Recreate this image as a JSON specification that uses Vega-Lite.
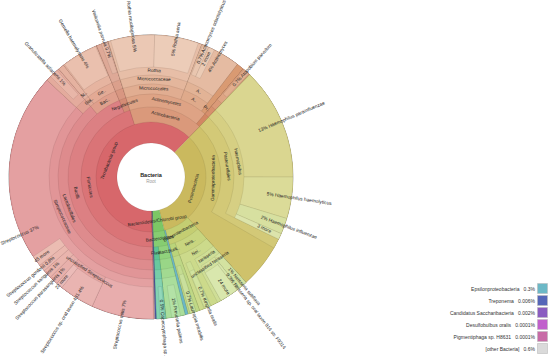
{
  "$schema": "https://vega.github.io/schema/vega-lite/v6.json",
  "width": 302,
  "height": 354,
  "autosize": {"type": "none"},
  "padding": {"left": 0, "top": 0, "right": 248, "bottom": 5},
  "background": "#ffffff",
  "config": {"view": {"stroke": null}, "text": {"font": "Liberation Sans"}},
  "datasets": {
    "nodes": [
      {"name": "Terrabacteria group", "label": "Terrabacteria group", "d": 1, "p0": 37.42, "p1": 100},
      {"name": "Firmicutes", "label": "Firmicutes", "d": 2, "p0": 37.42, "p1": 82.92},
      {"name": "Bacilli", "label": "Bacilli", "d": 3, "p0": 37.42, "p1": 81.53},
      {"name": "Lactobacillales", "label": "Lactobacillales", "d": 4, "p0": 37.42, "p1": 76.53},
      {"name": "Streptococcaceae", "label": "Streptococcaceae", "d": 5, "p0": 37.42, "p1": 74.72},
      {"name": "Streptococcus", "pct": "37%", "d": 6, "p0": 37.42, "p1": 74.72},
      {"name": "Streptococcus mitis", "pct": "7%", "d": 7, "p0": 37.5, "p1": 44.58},
      {"name": "unclassified Streptococcus", "label": "unclassified Streptococcus", "d": 7, "p0": 44.58, "p1": 49.31},
      {"name": "Streptococcus sp. oral taxon 431", "pct": "4%", "d": 8, "p0": 44.58, "p1": 48.58},
      {"name": "22 more", "pct": "", "d": 8, "p0": 48.58, "p1": 49.31},
      {"name": "Streptococcus parasanguinis", "pct": "1%", "d": 7, "p0": 49.31, "p1": 50.31},
      {"name": "Streptococcus sanguinis", "pct": "1%", "d": 7, "p0": 50.31, "p1": 51.31},
      {"name": "Streptococcus gordonii", "pct": "0.8%", "d": 7, "p0": 51.31, "p1": 52.11},
      {"name": "45 more", "pct": "", "d": 7, "p0": 52.11, "p1": 53.33},
      {"name": "Carnobacteriaceae", "d": 5, "p0": 74.72, "p1": 76.53},
      {"name": "Granulicatella", "d": 6, "p0": 74.72, "p1": 76.53},
      {"name": "Granulicatella adiacens", "pct": "1%", "d": 7, "p0": 75.28, "p1": 76.28},
      {"name": "Bacillales", "label": "Bac..", "d": 4, "p0": 76.53, "p1": 81.53},
      {"name": "Staphylococcaceae", "label": "Sta..", "d": 5, "p0": 76.53, "p1": 77.22},
      {"name": "Staphylococcus", "label": "St..", "d": 6, "p0": 76.53, "p1": 77.22},
      {"name": "Gemellaceae", "label": "Ge..", "d": 5, "p0": 77.22, "p1": 81.53},
      {"name": "Gemella", "d": 6, "p0": 77.22, "p1": 81.53},
      {"name": "Gemella haemolysans", "pct": "4%", "d": 7, "p0": 77.36, "p1": 81.39},
      {"name": "Negativicutes", "label": "Negativicutes", "d": 3, "p0": 81.53, "p1": 82.92},
      {"name": "Veillonellales", "d": 4, "p0": 81.53, "p1": 82.92},
      {"name": "Veillonellaceae", "d": 5, "p0": 81.53, "p1": 82.92},
      {"name": "Veillonella", "d": 6, "p0": 81.53, "p1": 82.92},
      {"name": "Veillonella parvula", "pct": "0.7%", "d": 7, "p0": 82.08, "p1": 82.78},
      {"name": "Actinobacteria", "label": "Actinobacteria", "d": 2, "p0": 82.92, "p1": 100},
      {"name": "Actinomycetes", "label": "Actinomycetes", "d": 3, "p0": 82.92, "p1": 99.03},
      {"name": "Micrococcales", "label": "Micrococcales", "d": 4, "p0": 82.92, "p1": 93.61},
      {"name": "Micrococcaceae", "label": "Micrococcaceae", "d": 5, "p0": 82.92, "p1": 93.61},
      {"name": "Rothia", "label": "Rothia", "d": 6, "p0": 82.92, "p1": 93.61},
      {"name": "Rothia mucilaginosa", "pct": "5%", "d": 7, "p0": 83.19, "p1": 88.19},
      {"name": "Rothia aeria", "pct": "5%", "d": 7, "p0": 88.19, "p1": 93.19},
      {"name": "Actinomycetales", "label": "A..", "d": 4, "p0": 93.61, "p1": 98.19},
      {"name": "Actinomycetaceae", "label": "A..", "d": 5, "p0": 93.61, "p1": 98.19},
      {"name": "Actinomyces", "pct": "4%", "d": 6, "p0": 93.61, "p1": 98.19},
      {"name": "Actinomyces odontolyticus", "pct": "0.7%", "d": 7, "p0": 93.75, "p1": 94.44},
      {"name": "2 more", "pct": "", "d": 7, "p0": 94.44, "p1": 95.14},
      {"name": "Propionibacteriales", "label": "Pr..", "d": 4, "p0": 98.19, "p1": 99.03},
      {"name": "Coriobacteriia", "d": 3, "p0": 99.03, "p1": 100},
      {"name": "Coriobacteriales", "d": 4, "p0": 99.03, "p1": 100},
      {"name": "Atopobiaceae", "d": 5, "p0": 99.03, "p1": 100},
      {"name": "Atopobium", "d": 6, "p0": 99.03, "p1": 100},
      {"name": "Atopobium parvulum", "pct": "0.7%", "d": 7, "p0": 99.17, "p1": 99.86},
      {"name": "Proteobacteria", "label": "Proteobacteria", "d": 1, "p0": 0, "p1": 33.89},
      {"name": "Gammaproteobacteria", "label": "Gammaproteobacteria", "d": 2, "p0": 0, "p1": 26.11},
      {"name": "Pasteurellales", "label": "Pasteurellales", "d": 3, "p0": 0, "p1": 21.11},
      {"name": "Haemophilus", "label": "Haemophilus", "d": 4, "p0": 0, "p1": 20},
      {"name": "Haemophilus parainfluenzae", "pct": "13%", "d": 5, "p0": 0, "p1": 12.78},
      {"name": "Haemophilus haemolyticus", "pct": "5%", "d": 5, "p0": 12.78, "p1": 17.5},
      {"name": "Haemophilus influenzae", "pct": "2%", "d": 5, "p0": 17.5, "p1": 19.31},
      {"name": "3 more", "pct": "", "d": 5, "p0": 19.31, "p1": 20},
      {"name": "Betaproteobacteria", "label": "Betaproteobacteria", "d": 2, "p0": 26.11, "p1": 33.56},
      {"name": "Neisseriales", "label": "Neis..", "d": 3, "p0": 26.11, "p1": 32.22},
      {"name": "Neisseriaceae", "label": "Nei..", "d": 4, "p0": 26.11, "p1": 32.22},
      {"name": "Neisseria", "label": "Neisseria", "d": 5, "p0": 26.11, "p1": 30},
      {"name": "Neisseria subflava", "pct": "1%", "d": 6, "p0": 26.11, "p1": 27.11},
      {"name": "unclassified Neisseria", "label": "unclassified Neisseria", "d": 6, "p0": 27.11, "p1": 29.58},
      {"name": "Neisseria sp. oral taxon 014 str. F0314", "pct": "0.3%", "d": 7, "p0": 27.11, "p1": 27.42},
      {"name": "24 more", "pct": "", "d": 7, "p0": 27.42, "p1": 29.58},
      {"name": "Kingella", "d": 5, "p0": 30.83, "p1": 31.67},
      {"name": "Kingella oralis", "pct": "0.7%", "d": 6, "p0": 30.9, "p1": 31.6},
      {"name": "Burkholderiales", "label": "Burk..", "d": 3, "p0": 32.22, "p1": 33.56},
      {"name": "Burkholderiaceae", "d": 4, "p0": 32.22, "p1": 33.56},
      {"name": "Lautropia", "d": 5, "p0": 32.64, "p1": 33.33},
      {"name": "Lautropia mirabilis", "pct": "0.7%", "d": 6, "p0": 32.64, "p1": 33.33},
      {"name": "Bacteroidetes/Chlorobi group", "label": "Bacteroidetes/Chlorobi group", "d": 1, "p0": 33.89, "p1": 37.17},
      {"name": "Bacteroidetes", "label": "Bacteroidetes", "d": 2, "p0": 33.89, "p1": 37.17},
      {"name": "Bacteroidia", "label": "Bact..", "d": 3, "p0": 33.89, "p1": 36.11},
      {"name": "Bacteroidales", "d": 4, "p0": 33.89, "p1": 36.11},
      {"name": "Prevotellaceae", "d": 5, "p0": 33.89, "p1": 36.11},
      {"name": "Prevotella", "d": 6, "p0": 33.89, "p1": 36.11},
      {"name": "Prevotella pallens", "pct": "1%", "d": 7, "p0": 34.44, "p1": 35.44},
      {"name": "Flavobacteriia", "label": "Flav..", "d": 3, "p0": 36.11, "p1": 37.17},
      {"name": "Flavobacteriales", "d": 4, "p0": 36.11, "p1": 37.17},
      {"name": "Flavobacteriaceae", "d": 5, "p0": 36.11, "p1": 37.17},
      {"name": "Capnocytophaga", "d": 6, "p0": 36.11, "p1": 37.17},
      {"name": "Capnocytophaga sp.", "pct": "0.5%", "d": 7, "p0": 36.25, "p1": 36.75}
    ],
    "key": [
      {"name": "Epsilonproteobacteria", "pct": "0.3%", "d": 2, "p0": 33.56, "p1": 33.89},
      {"name": "Treponema", "pct": "0.006%", "d": 1, "p0": 37.17, "p1": 37.31},
      {"name": "Candidatus Saccharibacteria", "pct": "0.002%", "d": 1, "p0": 37.31, "p1": 37.33},
      {"name": "Desulfobulbus oralis", "pct": "0.0001%", "d": 1, "p0": 37.33, "p1": 37.35},
      {"name": "Pigmentiphaga sp. H8631", "pct": "0.0001%", "d": 1, "p0": 37.35, "p1": 37.36},
      {"name": "[other Bacteria]", "pct": "0.6%", "d": 1, "p0": 37.36, "p1": 37.42}
    ],
    "center": [{"name": "Bacteria", "rank": "Root"}]
  },
  "layer": [
    {
      "data": {"name": "nodes"},
      "mark": {"type": "arc", "stroke": "#000000", "strokeOpacity": 0.14, "strokeWidth": 0.5},
      "encoding": {
        "theta": {"field": "p0", "type": "quantitative", "stack": null, "scale": {"domain": [0, 100], "range": [0.76794, 7.05113]}},
        "theta2": {"field": "p1"},
        "radius": {"field": "d", "type": "quantitative", "scale": {"type": "linear", "zero": false, "domain": [1, 2, 3, 4, 5, 6, 7, 8, 9, 10, 11], "range": [34, 55, 70, 83, 93, 102, 110, 117, 123, 129, 142]}},
        "radius2": {"value": 142},
        "color": {
          "field": "name", "type": "nominal", "legend": null,
          "scale": {
            "domain": ["Terrabacteria group", "Firmicutes", "Bacilli", "Lactobacillales", "Streptococcaceae", "Streptococcus", "Streptococcus mitis", "unclassified Streptococcus", "Streptococcus sp. oral taxon 431", "22 more", "Streptococcus parasanguinis", "Streptococcus sanguinis", "Streptococcus gordonii", "45 more", "Carnobacteriaceae", "Granulicatella", "Granulicatella adiacens", "Bacillales", "Staphylococcaceae", "Staphylococcus", "Gemellaceae", "Gemella", "Gemella haemolysans", "Negativicutes", "Veillonellales", "Veillonellaceae", "Veillonella", "Veillonella parvula", "Actinobacteria", "Actinomycetes", "Micrococcales", "Micrococcaceae", "Rothia", "Rothia mucilaginosa", "Rothia aeria", "Actinomycetales", "Actinomycetaceae", "Actinomyces", "Actinomyces odontolyticus", "2 more", "Propionibacteriales", "Coriobacteriia", "Coriobacteriales", "Atopobiaceae", "Atopobium", "Atopobium parvulum", "Proteobacteria", "Gammaproteobacteria", "Pasteurellales", "Haemophilus", "Haemophilus parainfluenzae", "Haemophilus haemolyticus", "Haemophilus influenzae", "3 more", "Betaproteobacteria", "Neisseriales", "Neisseriaceae", "Neisseria", "Neisseria subflava", "unclassified Neisseria", "Neisseria sp. oral taxon 014 str. F0314", "24 more", "Kingella", "Kingella oralis", "Burkholderiales", "Burkholderiaceae", "Lautropia", "Lautropia mirabilis", "Bacteroidetes/Chlorobi group", "Bacteroidetes", "Bacteroidia", "Bacteroidales", "Prevotellaceae", "Prevotella", "Prevotella pallens", "Flavobacteriia", "Flavobacteriales", "Flavobacteriaceae", "Capnocytophaga", "Capnocytophaga sp."],
            "range": ["#d7676b", "#da7477", "#dc8083", "#de8b8d", "#e19597", "#e4a0a1", "#e8adad", "#e5a6a4", "#e9b4b1", "#ebbbb8", "#e8b0ab", "#e9b4ad", "#eab7ae", "#ebbcb2", "#e1a193", "#e4ab9d", "#e8b6a8", "#df9f8c", "#e2a996", "#e5b2a0", "#e3aa95", "#e6b4a0", "#eac0ae", "#d48c75", "#d89681", "#dba08c", "#dea997", "#e2b4a2", "#da997b", "#dea385", "#e1ad91", "#e4b69c", "#e7bea7", "#ebc8b4", "#ecccb8", "#dfaa8b", "#e2b396", "#e5bba2", "#e9c6af", "#ebcbb5", "#d99a72", "#d28663", "#d6906d", "#da9a78", "#dea483", "#e2ae8e", "#cab95e", "#cfc26b", "#d3c977", "#d6cf83", "#dad690", "#dbdb98", "#d7e0a0", "#dce4ab", "#c4ce72", "#c8d57f", "#ccda8b", "#cfde96", "#d3e2a0", "#d3e19e", "#d7e5a8", "#d9e7ad", "#cddf93", "#d1e39e", "#bad47a", "#bfd886", "#c4dc91", "#c9e09c", "#7cc765", "#86cd71", "#90d27c", "#99d687", "#a2da91", "#aade9b", "#b3e2a6", "#5cc394", "#69c99e", "#76cea8", "#83d3b1", "#91d8ba"]
          }
        }
      }
    },
    {
      "data": {"name": "key"},
      "transform": [{"calculate": "datum.name + '\u00a0\u00a0\u00a0' + datum.pct", "as": "entry"}],
      "mark": {"type": "arc", "stroke": "#000000", "strokeOpacity": 0.14, "strokeWidth": 0.5},
      "encoding": {
        "theta": {"field": "p0", "type": "quantitative", "stack": null, "scale": {"domain": [0, 100], "range": [0.76794, 7.05113]}},
        "theta2": {"field": "p1"},
        "radius": {"field": "d", "type": "quantitative", "scale": {"type": "linear", "zero": false, "domain": [1, 2, 3, 4, 5, 6, 7, 8, 9, 10, 11], "range": [34, 55, 70, 83, 93, 102, 110, 117, 123, 129, 142]}},
        "radius2": {"value": 142},
        "color": {
          "field": "entry", "type": "nominal",
          "scale": {
            "domain": ["Epsilonproteobacteria\u00a0\u00a0\u00a00.3%", "Treponema\u00a0\u00a0\u00a00.006%", "Candidatus Saccharibacteria\u00a0\u00a0\u00a00.002%", "Desulfobulbus oralis\u00a0\u00a0\u00a00.0001%", "Pigmentiphaga sp. H8631\u00a0\u00a0\u00a00.0001%", "[other Bacteria]\u00a0\u00a0\u00a00.6%"],
            "range": ["#6cb8c6", "#5566b8", "#8a5cc0", "#c160cc", "#c86ba6", "#dadada"]
          },
          "legend": {
            "orient": "none", "legendX": 384, "legendY": 283, "title": null, "padding": 0,
            "symbolType": "square", "symbolSize": 100, "symbolOffset": 153, "symbolOpacity": 1,
            "symbolStrokeColor": "#bbbbbb", "symbolStrokeWidth": 0.6,
            "labelAlign": "right", "labelOffset": -13, "labelFontSize": 5, "labelColor": "#333333",
            "labelFont": "Liberation Sans", "labelLimit": 300, "rowPadding": -2.9
          }
        }
      }
    },
    {
      "data": {"name": "nodes"},
      "transform": [
        {"filter": "isValid(datum.label) && !isValid(datum.pct)"},
        {"calculate": "(datum.p0 + datum.p1) / 2", "as": "mid"},
        {"calculate": "(44 + datum.mid * 3.6) % 360", "as": "th"},
        {"calculate": "datum.th > 90 && datum.th < 270 ? datum.th - 180 : datum.th", "as": "ang"},
        {"calculate": "datum.d + 0.5", "as": "rr"}
      ],
      "mark": {"type": "text", "fontSize": 4.6, "fill": "#222222", "align": "center", "baseline": "middle", "font": "Liberation Sans"},
      "encoding": {
        "theta": {"field": "mid", "type": "quantitative", "stack": null, "scale": {"domain": [0, 100], "range": [0.76794, 7.05113]}},
        "radius": {"field": "rr", "type": "quantitative", "scale": {"type": "linear", "zero": false, "domain": [1, 2, 3, 4, 5, 6, 7, 8, 9, 10, 11], "range": [34, 55, 70, 83, 93, 102, 110, 117, 123, 129, 142]}},
        "angle": {"field": "ang", "type": "quantitative", "scale": null},
        "text": {"field": "label"}
      }
    },
    {
      "data": {"name": "nodes"},
      "transform": [
        {"filter": "isValid(datum.pct)"},
        {"calculate": "(datum.p0 + datum.p1) / 2", "as": "mid"},
        {"calculate": "(44 + datum.mid * 3.6) % 360", "as": "th"},
        {"filter": "datum.th < 180"},
        {"calculate": "datum.th - 90", "as": "ang"},
        {"calculate": "(datum.d + 11) / 2", "as": "rr"},
        {"calculate": "(datum.pct != '' ? datum.pct + ' ' : '') + datum.name", "as": "txt"}
      ],
      "mark": {"type": "text", "fontSize": 4.8, "fill": "#222222", "align": "left", "baseline": "middle", "font": "Liberation Sans"},
      "encoding": {
        "theta": {"field": "mid", "type": "quantitative", "stack": null, "scale": {"domain": [0, 100], "range": [0.76794, 7.05113]}},
        "radius": {"field": "rr", "type": "quantitative", "scale": {"type": "linear", "zero": false, "domain": [1, 2, 3, 4, 5, 6, 7, 8, 9, 10, 11], "range": [34, 55, 70, 83, 93, 102, 110, 117, 123, 129, 142]}},
        "angle": {"field": "ang", "type": "quantitative", "scale": null},
        "text": {"field": "txt"}
      }
    },
    {
      "data": {"name": "nodes"},
      "transform": [
        {"filter": "isValid(datum.pct)"},
        {"calculate": "(datum.p0 + datum.p1) / 2", "as": "mid"},
        {"calculate": "(44 + datum.mid * 3.6) % 360", "as": "th"},
        {"filter": "datum.th >= 180"},
        {"calculate": "datum.th + 90", "as": "ang"},
        {"calculate": "(datum.d + 12) / 2", "as": "rr"},
        {"calculate": "datum.name + (datum.pct != '' ? ' ' + datum.pct : '')", "as": "txt"}
      ],
      "mark": {"type": "text", "fontSize": 4.8, "fill": "#222222", "align": "right", "baseline": "middle", "font": "Liberation Sans"},
      "encoding": {
        "theta": {"field": "mid", "type": "quantitative", "stack": null, "scale": {"domain": [0, 100], "range": [0.76794, 7.05113]}},
        "radius": {"field": "rr", "type": "quantitative", "scale": {"type": "linear", "zero": false, "domain": [1, 2, 3, 4, 5, 6, 7, 8, 9, 10, 11], "range": [34, 55, 70, 83, 93, 102, 110, 117, 123, 129, 142]}},
        "angle": {"field": "ang", "type": "quantitative", "scale": null},
        "text": {"field": "txt"}
      }
    },
    {
      "data": {"name": "center"},
      "mark": {"type": "text", "fontSize": 5.5, "fontWeight": "bold", "fill": "#222222", "dy": -2, "font": "Liberation Sans"},
      "encoding": {"text": {"field": "name"}}
    },
    {
      "data": {"name": "center"},
      "mark": {"type": "text", "fontSize": 4.6, "fill": "#999999", "dy": 4.5, "font": "Liberation Sans"},
      "encoding": {"text": {"field": "rank"}}
    }
  ],
  "resolve": {"scale": {"color": "independent"}}
}
